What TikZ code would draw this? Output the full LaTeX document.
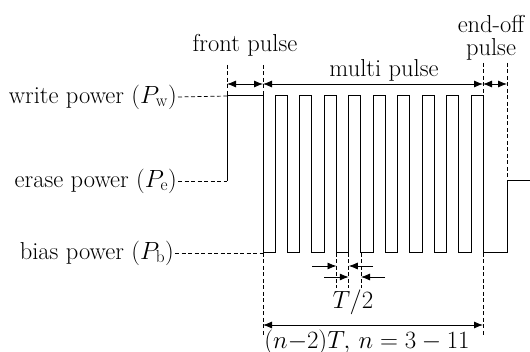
\documentclass[tikz,border=0pt]{standalone}
\usepackage{amsmath}
\usetikzlibrary{arrows.meta}

\tikzset{
  wave/.style={line width=1pt},
  guide/.style={line width=0.7pt,dash pattern=on 4pt off 2.5pt},
  dim/.style={line width=0.8pt,{Latex[length=9pt,width=7pt]}-{Latex[length=9pt,width=7pt]}},
  tick/.style={line width=0.8pt,-{Latex[length=9pt,width=7pt]}},
  lbl/.style={inner sep=1pt,font=\fontsize{24.5}{28}\selectfont}
}

\begin{document}
\begin{tikzpicture}[x=1pt,y=-1pt]
\useasboundingbox (0,0) rectangle (530,352);

% power levels
\def\yw{96}\def\ye{181}\def\yb{253}

% labels on the left
\node[lbl,anchor=east] (write) at (178,97) {write power ($P_{\mathrm{w}}$)};
\node[lbl,anchor=east] (erase) at (178,181) {erase power ($P_{\mathrm{e}}$)};
\node[lbl,anchor=east] (bias) at (175,253) {bias power ($P_{\mathrm{b}}$)};

\coordinate (fl) at (227,\yw);
\coordinate (el) at (227,\ye);
\coordinate (bl) at (263,\yb);
\draw[guide] (write.east) -- (fl);
\draw[guide] (erase.east) -- (el);
\draw[guide] (bias.east) -- (bl);

% waveform
\draw[wave] (227,\ye) -- (227,\yw) -- (263,\yw) -- (263,\yb)
  \foreach \i in {0,...,8} { -- (275+24.5*\i,\yb) -- (275+24.5*\i,\yw) -- (287.25+24.5*\i,\yw) -- (287.25+24.5*\i,\yb) }
  -- (507,\yb) -- (507,\ye) -- (530,\ye);

% extension lines
\draw[guide] (227,65) -- (227,\yw);
\draw[guide] (263,65) -- (263,\yw);
\draw[guide] (263,\yb) -- (263,335);
\draw[guide] (483,63) -- (483,\yw);
\draw[guide] (483,\yb) -- (483,335);
\draw[guide] (507,63) -- (507,\ye);
\foreach \x in {336.5,348.75,361}
  \draw[guide] (\x,\yb) -- (\x,288);

% pulse widths
\coordinate (f1) at (227,84);
\coordinate (f2) at (263,84);
\coordinate (m2) at (483,84);
\coordinate (e2) at (507,84);
\draw[dim] (f1) -- (f2);
\draw[dim] (f2) -- (m2);
\draw[dim] (m2) -- (e2);

\node[lbl] (front) at (245,45) {front pulse};
\node[lbl] (multi) at (384,70) {multi pulse};
\node[lbl,align=center] (endoff) at (491,38) {end-off\\[-5pt]pulse};

% T/2
\draw[tick] (312,266) -- (336.5,266);
\draw[tick] (373,266) -- (348.75,266);
\draw[tick] (324,277) -- (348.75,277);
\draw[tick] (385,277) -- (361,277);
\node[lbl] (half) at (353,302) {$T/2$};

% (n-2)T
\coordinate (p1) at (263,325);
\coordinate (p2) at (483,325);
\draw[dim] (p1) -- (p2);
\node[lbl] (period) at (367,342) {$(n{-}2)T,\, n=3-11$};
\end{tikzpicture}
\end{document}
